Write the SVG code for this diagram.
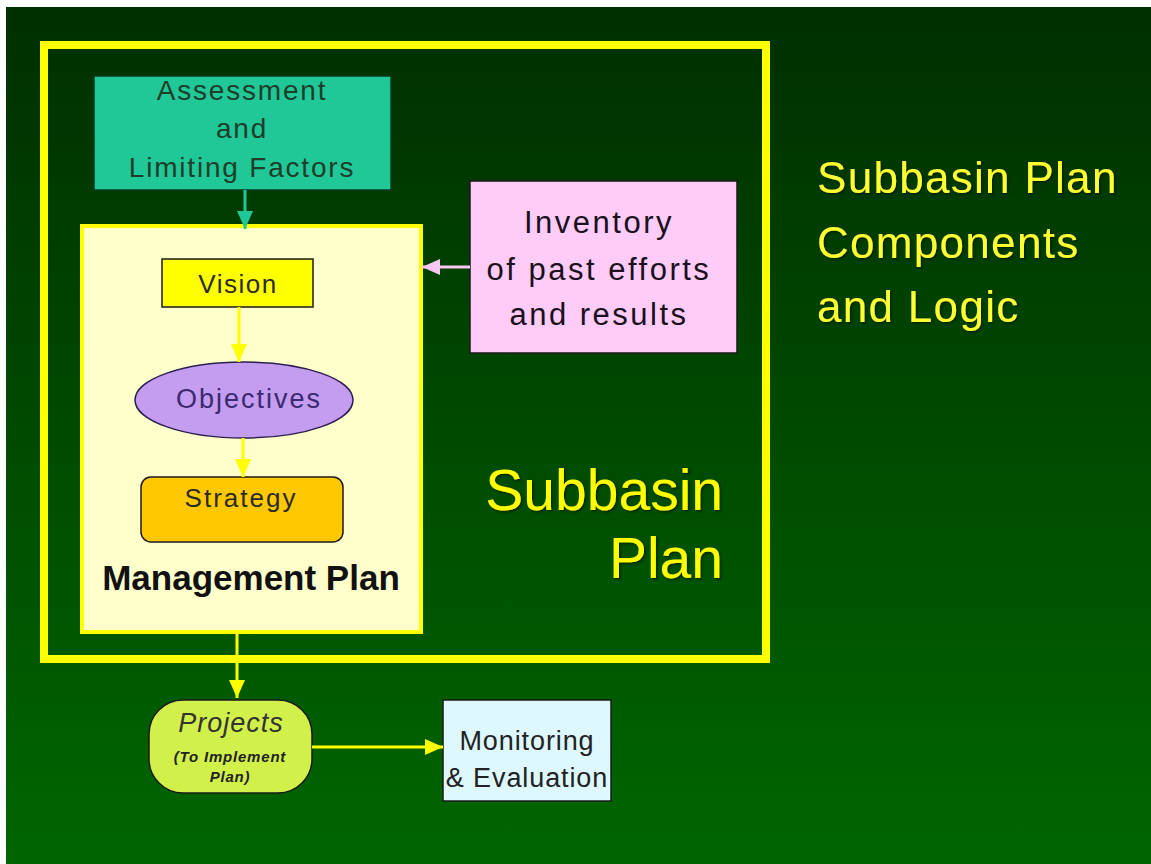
<svg xmlns="http://www.w3.org/2000/svg" width="1151" height="864" viewBox="0 0 1151 864">
  <defs>
    <linearGradient id="bg" x1="0" y1="0" x2="0" y2="1">
      <stop offset="0" stop-color="#002f00"/>
      <stop offset="0.5" stop-color="#004a00"/>
      <stop offset="1" stop-color="#006600"/>
    </linearGradient>
    <filter id="shadow" x="-10%" y="-10%" width="120%" height="130%">
      <feDropShadow dx="1.5" dy="1.5" stdDeviation="0.8" flood-color="#001a00" flood-opacity="0.9"/>
    </filter>
    <marker id="ah-teal" viewBox="0 0 18 16" markerWidth="18" markerHeight="16" refX="18" refY="8" orient="auto" markerUnits="userSpaceOnUse">
      <path d="M0,0 L18,8 L0,16 z" fill="#20c898"/>
    </marker>
    <marker id="ah-yellow" viewBox="0 0 18 16" markerWidth="18" markerHeight="16" refX="18" refY="8" orient="auto" markerUnits="userSpaceOnUse">
      <path d="M0,0 L18,8 L0,16 z" fill="#ffff00"/>
    </marker>
    <marker id="ah-pink" viewBox="0 0 18 16" markerWidth="18" markerHeight="16" refX="18" refY="8" orient="auto" markerUnits="userSpaceOnUse">
      <path d="M0,0 L18,8 L0,16 z" fill="#f8c8f2"/>
    </marker>
  </defs>
  <style>
    text { font-family: "Liberation Sans", Arial, sans-serif; }
    .box { stroke: #1a1a1a; stroke-width: 1.5; }
    .conn { fill: none; stroke-width: 3; }
    .yl { stroke: #ffff00; marker-end: url(#ah-yellow); }
    .title { fill: #ffff33; font-size: 44px; letter-spacing: 1.3px; filter: url(#shadow); }
  </style>

  <rect x="0" y="0" width="1151" height="864" fill="#ffffff"/>
  <rect x="6" y="7" width="1145" height="857" fill="url(#bg)"/>

  <g id="subbasin-frame">
    <rect x="44" y="45" width="722" height="614" fill="none" stroke="#ffff00" stroke-width="8"/>
    <text x="723" y="510" font-size="57" fill="#ffff00" text-anchor="end" filter="url(#shadow)">Subbasin</text>
    <text x="723" y="578" font-size="57" fill="#ffff00" text-anchor="end" filter="url(#shadow)">Plan</text>
  </g>

  <g id="title">
    <text x="817" y="193" class="title">Subbasin Plan</text>
    <text x="817" y="258" class="title">Components</text>
    <text x="817" y="322" class="title">and Logic</text>
  </g>

  <g id="assessment">
    <rect x="94" y="76" width="297" height="114" fill="#20c898" stroke="#0b3a20" stroke-width="1.5"/>
    <g fill="#1e3d2a" font-size="28" letter-spacing="1.8" text-anchor="middle">
      <text x="242" y="100">Assessment</text>
      <text x="242" y="138">and</text>
      <text x="242" y="177">Limiting Factors</text>
    </g>
  </g>

  <g id="management-plan">
    <rect x="82" y="226" width="339" height="406" fill="#ffffcc" stroke="#ffff00" stroke-width="4"/>
    <text x="251" y="590" font-size="35" font-weight="bold" fill="#111111" text-anchor="middle">Management Plan</text>
  </g>

  <g id="vision">
    <rect x="162" y="259" width="151" height="48" fill="#ffff00" class="box"/>
    <text x="238" y="293" font-size="26" letter-spacing="1.5" fill="#2a2a2a" text-anchor="middle">Vision</text>
  </g>

  <g id="objectives">
    <ellipse cx="244" cy="400" rx="109" ry="38" fill="#c49cf0" stroke="#2a2050" stroke-width="1.5"/>
    <text x="249" y="408" font-size="27" letter-spacing="2" fill="#3b2a6e" text-anchor="middle">Objectives</text>
  </g>

  <g id="strategy">
    <rect x="141" y="477" width="202" height="65" rx="10" ry="10" fill="#ffc800" class="box"/>
    <text x="241" y="507" font-size="26" letter-spacing="2" fill="#2a2a2a" text-anchor="middle">Strategy</text>
  </g>

  <g id="inventory">
    <rect x="470" y="181" width="267" height="172" fill="#ffccf8" class="box"/>
    <g font-size="31" letter-spacing="2.5" fill="#1a1020" text-anchor="middle">
      <text x="599" y="233">Inventory</text>
      <text x="599" y="280">of past efforts</text>
      <text x="599" y="325">and results</text>
    </g>
  </g>

  <g id="projects">
    <rect x="149" y="700" width="163" height="93" rx="34" ry="34" fill="#d2f04a" class="box"/>
    <text x="231" y="732" font-size="27" font-style="italic" letter-spacing="1" fill="#333333" text-anchor="middle">Projects</text>
    <text x="230" y="762" font-size="15" font-style="italic" font-weight="bold" letter-spacing="0.8" fill="#222222" text-anchor="middle">(To Implement</text>
    <text x="230" y="782" font-size="15" font-style="italic" font-weight="bold" letter-spacing="0.8" fill="#222222" text-anchor="middle">Plan)</text>
  </g>

  <g id="monitoring">
    <rect x="443" y="700" width="168" height="101" fill="#ddf8ff" class="box"/>
    <text x="527" y="750" font-size="27" letter-spacing="0.9" fill="#222222" text-anchor="middle">Monitoring</text>
    <text x="527" y="787" font-size="27" letter-spacing="0.9" fill="#222222" text-anchor="middle">&amp; Evaluation</text>
  </g>

  <g id="connectors">
    <line x1="245" y1="190" x2="245" y2="229" class="conn" stroke="#20c898" marker-end="url(#ah-teal)"/>
    <line x1="470" y1="267" x2="422" y2="267" class="conn" stroke="#f8c8f2" marker-end="url(#ah-pink)"/>
    <line x1="239" y1="307" x2="239" y2="362" class="conn yl"/>
    <line x1="243" y1="438" x2="243" y2="477" class="conn yl"/>
    <line x1="237" y1="632" x2="237" y2="698" class="conn yl"/>
    <line x1="312" y1="747" x2="443" y2="747" class="conn yl"/>
  </g>
</svg>
